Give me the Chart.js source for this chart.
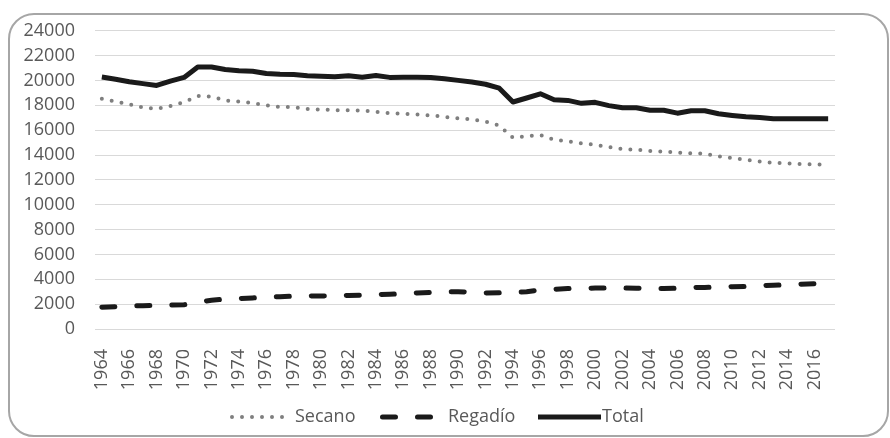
<!DOCTYPE html>
<html>
<head>
<meta charset="utf-8">
<script src="https://cdn.jsdelivr.net/npm/chart.js@4"></script>
<style>
  html, body { margin: 0; padding: 0; background: #fff; }
  #wrap { position: relative; width: 890px; height: 438px; overflow: hidden; }
  #frame {
    position: absolute; left: 8px; top: 13px; width: 877px; height: 420px;
    border: 2px solid #a6a6a6; border-radius: 26px; box-sizing: content-box;
  }
  canvas { position: absolute; left: 0; top: 0; }
</style>
</head>
<body>
<div id="wrap">
  <div id="frame"></div>
  <canvas id="chart" width="890" height="438"></canvas>
</div>
<script>
// años 1964-2017
const years = [];
for (let y = 1964; y <= 2017; y++) years.push(String(y));

const secano = [
  18530, 18320, 18080, 17820, 17720, 17950, 18270, 18750, 18700, 18400,
  18300, 18190, 18000, 17870, 17850, 17710, 17660, 17610, 17610, 17580,
  17480, 17370, 17320, 17270, 17190, 17080, 16950, 16870, 16690, 16370,
  15390, 15520, 15600, 15230, 15100, 14940, 14830, 14650, 14470, 14440,
  14330, 14280, 14200, 14150, 14100, 13890, 13760, 13620, 13490, 13380,
  13330, 13280, 13250, 13200
];

const regadio = [
  1750, 1800, 1850, 1880, 1900, 1920, 1950, 2150, 2320, 2400,
  2450, 2500, 2560, 2600, 2640, 2650, 2660, 2680, 2700, 2730,
  2770, 2800, 2850, 2900, 2950, 2980, 3000, 2950, 2900, 2920,
  2930, 3000, 3150, 3200, 3250, 3270, 3290, 3300, 3300, 3280,
  3250, 3250, 3280, 3330, 3350, 3380, 3400, 3420, 3480, 3520,
  3570, 3600, 3650, 3750
];

const total = [
  20280, 20100, 19900, 19750, 19600, 19950, 20250, 21090, 21090, 20880,
  20780, 20750, 20560, 20500, 20480, 20380, 20350, 20300, 20380, 20270,
  20400, 20250, 20270, 20270, 20250, 20140, 20010, 19880, 19700, 19380,
  18270, 18590, 18930, 18450, 18400, 18160, 18240, 17980, 17800, 17800,
  17610, 17610, 17370, 17560, 17560, 17320, 17190, 17080, 17030, 16930,
  16930, 16930, 16930, 16930
];

const textColor = '#595959';
const fontFamily = '"Open Sans", "Liberation Sans", sans-serif';
const fontSize = 18;

// leyenda dibujada a mano para imitar las muestras de línea
const legendPlugin = {
  id: 'lineLegend',
  afterDraw(chart) {
    const ctx = chart.ctx;
    const y = 417;
    ctx.save();
    ctx.font = fontSize + 'px ' + fontFamily;
    ctx.fillStyle = textColor;
    ctx.textBaseline = 'middle';
    ctx.textAlign = 'left';

    // Secano
    ctx.beginPath();
    ctx.strokeStyle = '#7f7f7f';
    ctx.lineWidth = 4;
    ctx.lineCap = 'round';
    ctx.setLineDash([0, 10]);
    ctx.moveTo(232, y);
    ctx.lineTo(284, y);
    ctx.stroke();
    ctx.fillText('Secano', 295, y);

    // Regadío
    ctx.beginPath();
    ctx.strokeStyle = '#1a1a1a';
    ctx.lineWidth = 5;
    ctx.setLineDash([13, 22]);
    ctx.moveTo(382.5, y);
    ctx.lineTo(430.5, y);
    ctx.stroke();
    ctx.fillText('Regadío', 448, y);

    // Total
    ctx.beginPath();
    ctx.setLineDash([]);
    ctx.lineCap = 'butt';
    ctx.moveTo(538, y);
    ctx.lineTo(601, y);
    ctx.stroke();
    ctx.fillText('Total', 602, y);
    ctx.restore();
  }
};

new Chart(document.getElementById('chart'), {
  type: 'line',
  data: {
    labels: years,
    datasets: [
      {
        label: 'Secano',
        data: secano,
        borderColor: '#7f7f7f',
        borderWidth: 4,
        borderDash: [0, 10],
        borderCapStyle: 'round',
        pointRadius: 0,
        tension: 0
      },
      {
        label: 'Regadío',
        data: regadio,
        borderColor: '#1a1a1a',
        borderWidth: 5,
        borderDash: [13, 22],
        borderCapStyle: 'round',
        pointRadius: 0,
        tension: 0
      },
      {
        label: 'Total',
        data: total,
        borderColor: '#1a1a1a',
        borderWidth: 5,
        borderJoinStyle: 'round',
        pointRadius: 0,
        tension: 0
      }
    ]
  },
  options: {
    responsive: false,
    animation: false,
    layout: { padding: { left: 0, right: 55, top: 26, bottom: 40 } },
    plugins: {
      legend: { display: false },
      tooltip: { enabled: false }
    },
    scales: {
      x: {
        offset: true,
        grid: { display: false },
        border: { display: false },
        ticks: {
          autoSkip: false,
          minRotation: 90,
          maxRotation: 90,
          padding: 12,
          color: textColor,
          font: { family: fontFamily, size: fontSize },
          callback: function (val, index) {
            return index % 2 === 0 ? this.getLabelForValue(val) : '';
          }
        },
        afterFit(scale) { scale.height = 69; }
      },
      y: {
        min: 0,
        max: 24000,
        grid: { color: '#d9d9d9', lineWidth: 1, drawTicks: false },
        border: { display: false },
        ticks: {
          stepSize: 2000,
          padding: 20,
          color: textColor,
          font: { family: fontFamily, size: fontSize },
          callback: (v) => String(v)
        },
        afterFit(scale) { scale.width = 95; }
      }
    }
  },
  plugins: [legendPlugin]
});
</script>
</body>
</html>
